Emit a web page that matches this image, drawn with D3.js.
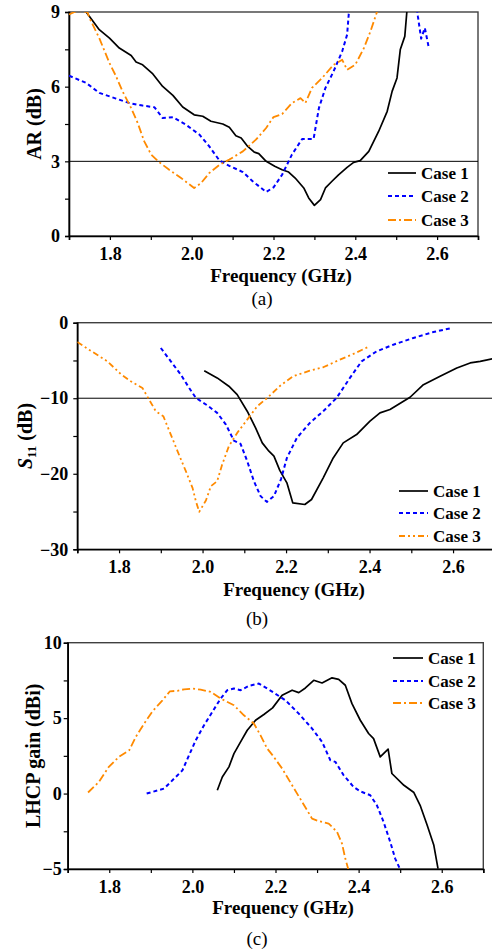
<!DOCTYPE html>
<html><head><meta charset="utf-8">
<script src="https://cdn.jsdelivr.net/npm/d3@7"></script>
<style>
html,body{margin:0;padding:0;background:#fff;}
svg{display:block;}
svg text{font-family:'Liberation Serif','Times New Roman',Times,serif !important;}
</style></head>
<body>
<svg id="chart" width="492" height="950"></svg>
<script>
// ---------- Data ----------
const caseLabels = ["Case 1", "Case 2", "Case 3"];
const xTickLabels = [1.8, 2.0, 2.2, 2.4, 2.6];

// (a) Axial ratio (dB)
const arTicks = [0, 3, 6, 9];
const arFreq1 = [1.735,1.742,1.774,1.799,1.823,1.852,1.864,1.880,1.905,1.929,1.954,1.978,2.006,2.027,2.047,2.076,2.092,2.108,2.121,2.137,2.153,2.164,2.182,2.203,2.221,2.237,2.253,2.274,2.286,2.300,2.315,2.327,2.343,2.359,2.380,2.396,2.412,2.433,2.457,2.478,2.490,2.502,2.510,2.521,2.526,2.532];
const arCase1 = [9.2,9.0,8.29,7.95,7.55,7.25,6.99,6.88,6.51,6.01,5.65,5.18,4.87,4.81,4.61,4.50,4.37,4.03,3.94,3.60,3.37,3.31,3.0,2.80,2.66,2.57,2.33,1.93,1.53,1.23,1.46,1.93,2.20,2.46,2.76,2.96,3.03,3.40,4.20,5.01,5.81,6.35,7.49,8.02,9.0,9.6];
const arFreq2 = [1.700,1.742,1.774,1.815,1.848,1.880,1.909,1.929,1.954,1.986,2.019,2.043,2.068,2.092,2.125,2.149,2.182,2.200,2.221,2.245,2.270,2.298,2.311,2.327,2.347,2.368,2.380,2.384,2.392,2.450,2.520,2.548,2.553,2.561,2.570,2.579];
const arCase2 = [6.44,6.15,5.75,5.52,5.34,5.24,5.17,4.74,4.77,4.47,4.07,3.60,3.03,2.82,2.57,2.20,1.77,1.95,2.46,3.27,3.90,3.90,5.14,5.95,6.62,7.42,8.09,8.92,9.6,11.0,11.0,9.5,8.83,7.93,8.36,7.62];
const arFreq3 = [1.700,1.720,1.745,1.750,1.774,1.799,1.815,1.831,1.852,1.868,1.884,1.901,1.921,1.945,1.974,2.006,2.023,2.043,2.068,2.092,2.125,2.157,2.182,2.200,2.221,2.245,2.266,2.278,2.294,2.319,2.347,2.368,2.380,2.400,2.421,2.437,2.453,2.460];
const arCase3 = [8.9,9.05,9.0,8.76,7.95,6.95,6.42,5.81,5.14,4.54,3.80,3.27,2.96,2.66,2.33,1.93,2.13,2.53,2.86,3.07,3.40,3.87,4.34,4.78,4.90,5.34,5.54,5.34,5.95,6.35,6.88,7.08,6.68,6.88,7.55,8.22,9.0,9.3];

// (b) S11 (dB)
const s11Ticks = [-30, -20, -10, 0];
const s11Freq1 = [2.004,2.035,2.063,2.083,2.107,2.127,2.143,2.159,2.171,2.185,2.202,2.216,2.245,2.261,2.289,2.313,2.337,2.369,2.401,2.425,2.449,2.497,2.529,2.569,2.609,2.641,2.665,2.700];
const s11Case1 = [-6.35,-7.31,-8.41,-9.52,-11.72,-13.93,-15.91,-17.01,-17.67,-19.55,-21.2,-23.85,-24.07,-23.41,-20.54,-17.9,-15.91,-14.81,-13.04,-11.94,-11.5,-9.87,-8.2,-7.09,-5.99,-5.33,-5.11,-4.7];
const s11Freq2 = [1.900,1.924,1.948,1.968,1.984,2.011,2.035,2.056,2.075,2.091,2.107,2.123,2.139,2.154,2.171,2.188,2.202,2.226,2.257,2.289,2.321,2.353,2.381,2.417,2.457,2.505,2.553,2.597];
const s11Case2 = [-3.35,-5.11,-6.88,-8.64,-9.96,-10.93,-11.94,-13.49,-15.61,-16.04,-18.33,-20.98,-22.96,-23.72,-22.96,-20.7,-17.9,-15.25,-13.27,-11.72,-9.96,-7.31,-5.11,-3.79,-2.91,-2.02,-1.23,-0.70];
const s11Freq3 = [1.700,1.728,1.772,1.804,1.828,1.856,1.872,1.888,1.906,1.924,1.940,1.960,1.976,1.984,1.992,2.008,2.020,2.035,2.047,2.063,2.083,2.107,2.131,2.155,2.186,2.217,2.257,2.289,2.329,2.361,2.395];
const s11Case3 = [-2.55,-3.57,-5.11,-6.79,-7.75,-8.64,-10.18,-11.72,-12.38,-14.81,-17.0,-19.66,-21.87,-23.63,-25.04,-23.54,-21.64,-20.98,-18.78,-16.35,-14.59,-12.83,-11.06,-9.96,-8.35,-7.09,-6.35,-5.9,-4.89,-4.14,-3.25];

// (c) LHCP gain (dBi)
const gainTicks = [-5, 0, 5, 10];
const gFreq1 = [2.060,2.072,2.088,2.100,2.116,2.132,2.152,2.172,2.193,2.216,2.240,2.256,2.272,2.292,2.312,2.336,2.352,2.368,2.384,2.404,2.424,2.436,2.452,2.471,2.480,2.509,2.533,2.548,2.565,2.581,2.591];
const gCase1 = [0.22,1.1,1.77,2.65,3.43,4.20,4.86,5.24,5.68,6.52,6.85,6.69,7.0,7.51,7.33,7.67,7.57,7.18,5.96,4.86,3.98,3.64,2.43,2.94,1.33,0.55,0.07,-0.78,-2.1,-3.43,-4.97];
const gFreq2 = [1.890,1.932,1.956,1.976,1.992,2.008,2.028,2.048,2.068,2.084,2.100,2.116,2.136,2.160,2.180,2.194,2.224,2.256,2.288,2.312,2.332,2.344,2.364,2.388,2.404,2.428,2.444,2.460,2.476,2.488,2.499];
const gCase2 = [0.0,0.33,0.99,1.54,2.54,3.53,4.53,5.41,6.30,6.85,6.96,6.85,7.14,7.29,6.96,6.72,6.18,5.30,4.31,3.43,2.21,2.10,1.21,0.44,0.15,-0.11,-0.78,-1.88,-3.2,-4.31,-4.97];
const gFreq3 = [1.749,1.775,1.799,1.823,1.848,1.864,1.884,1.904,1.928,1.946,1.964,1.980,2.000,2.020,2.044,2.068,2.100,2.124,2.148,2.164,2.180,2.194,2.216,2.240,2.264,2.288,2.304,2.328,2.348,2.360,2.368,2.375];
const gCase3 = [0.07,0.77,1.77,2.43,2.87,3.76,4.64,5.45,6.18,6.78,6.81,6.91,6.96,6.89,6.74,6.30,5.85,5.19,4.64,3.86,2.98,2.5,1.66,0.55,-0.55,-1.66,-1.83,-1.99,-2.54,-3.31,-4.31,-5.0];

// ---------- Drawing ----------
const svg = d3.select("#chart");
const FONT = "'Liberation Serif','Times New Roman',Times,serif";
const colors = ["#000000", "#0000ff", "#ff8a00"];
const widths = [1.7, 2.0, 1.8];
const zip = (xs, ys) => xs.map((x, i) => [x, ys[i]]);

const panels = [
  { id: "a", x0: 69, x1: 478, yTop: 12, yBot: 236, ydom: [0, 9], step: 1.5, major: arTicks,
    series: [zip(arFreq1, arCase1), zip(arFreq2, arCase2), zip(arFreq3, arCase3)],
    dashes: [null, "4,3", "8,3,2,3"], ref: 3, ylabPad: 9,
    title: "AR (dB)", titleX: 34, legend: { x: 388, len: 28, ys: [173, 196, 220] },
    caption: "(a)", capX: 262, capY: 305, xtitleX: 281, xtitleY: 282 },
  { id: "b", x0: 77.3, x1: 494.8, yTop: 322.7, yBot: 549.3, ydom: [-30, 0], step: 5, major: s11Ticks,
    series: [zip(s11Freq1, s11Case1), zip(s11Freq2, s11Case2), zip(s11Freq3, s11Case3)],
    dashes: [null, "4,3", "6,3,2,3,2,3"], ref: -10, ylabPad: 9,
    title: "S11", titleX: 25, legend: { x: 399, len: 29, ys: [491, 513, 536] },
    caption: "(b)", capX: 257, capY: 625, xtitleX: 294, xtitleY: 596 },
  { id: "c", x0: 67.7, x1: 483.3, yTop: 642.7, yBot: 869, ydom: [-5, 10], step: 2.5, major: gainTicks,
    series: [zip(gFreq1, gCase1), zip(gFreq2, gCase2), zip(gFreq3, gCase3)],
    dashes: [null, "4,3", "8,3,2,3"], ref: null, ylabPad: 6,
    title: "LHCP gain (dBi)", titleX: 33, legend: { x: 393, len: 30, ys: [658, 681, 703] },
    caption: "(c)", capX: 257, capY: 945, xtitleX: 283, xtitleY: 914 }
];

panels.forEach(p => {
  const x = d3.scaleLinear().domain([1.7, 2.7]).range([p.x0, p.x1]);
  const y = d3.scaleLinear().domain(p.ydom).range([p.yBot, p.yTop]);
  const g = svg.append("g");

  g.append("clipPath").attr("id", "clip-" + p.id)
    .append("rect").attr("x", p.x0).attr("y", p.yTop)
    .attr("width", p.x1 - p.x0).attr("height", p.yBot - p.yTop);

  // frame
  g.append("rect").attr("x", p.x0).attr("y", p.yTop)
    .attr("width", p.x1 - p.x0).attr("height", p.yBot - p.yTop)
    .attr("fill", "none").attr("stroke", "#404040").attr("stroke-width", 1.4);

  // reference line
  if (p.ref !== null) {
    g.append("line").attr("x1", p.x0).attr("x2", p.x1)
      .attr("y1", y(p.ref)).attr("y2", y(p.ref))
      .attr("stroke", "#000").attr("stroke-width", 1);
  }

  // x axis
  const xt = d3.range(17, 28).map(v => v / 10);
  const xAxis = d3.axisBottom(x).tickValues(xt).tickSize(4).tickPadding(7)
    .tickFormat(d => xTickLabels.some(t => Math.abs(t - d) < 1e-6) ? d3.format(".1f")(d) : "");
  const xg = g.append("g").attr("transform", `translate(0,${p.yBot})`).call(xAxis)
    .attr("font-family", FONT);
  xg.select(".domain").attr("stroke", "#000").attr("stroke-width", 1.6);
  xg.selectAll(".tick line").attr("stroke", "#000").attr("stroke-width", 1.2);
  xg.selectAll(".tick text").style("font-family", FONT)
    .attr("font-weight", "bold").attr("font-size", 18).attr("fill", "#000");

  // y axis
  const yt = d3.range(p.ydom[0], p.ydom[1] + 1e-9, p.step);
  const yAxis = d3.axisLeft(y).tickValues(yt).tickSize(4).tickPadding(p.ylabPad - 4)
    .tickFormat(d => p.major.includes(d) ? d3.format("d")(d) : "");
  const yg = g.append("g").attr("transform", `translate(${p.x0},0)`).call(yAxis)
    .attr("font-family", FONT);
  yg.select(".domain").attr("stroke", "#000").attr("stroke-width", 1.6);
  yg.selectAll(".tick line").attr("stroke", "#000").attr("stroke-width", 1.2);
  yg.selectAll(".tick text").style("font-family", FONT)
    .attr("font-weight", "bold").attr("font-size", 18).attr("fill", "#000");

  // series
  const line = d3.line().x(d => x(d[0])).y(d => y(d[1]));
  const sg = g.append("g").attr("clip-path", `url(#clip-${p.id})`);
  p.series.forEach((s, i) => {
    sg.append("path").datum(s).attr("d", line)
      .attr("fill", "none").attr("stroke", colors[i]).attr("stroke-width", widths[i])
      .attr("stroke-linejoin", "round")
      .attr("stroke-dasharray", p.dashes[i]);
  });

  // legend
  caseLabels.forEach((lab, i) => {
    const ly = p.legend.ys[i];
    g.append("line").attr("x1", p.legend.x).attr("x2", p.legend.x + p.legend.len)
      .attr("y1", ly).attr("y2", ly).attr("stroke", colors[i]).attr("stroke-width", widths[i])
      .attr("stroke-dasharray", p.dashes[i]);
    g.append("text").attr("x", p.legend.x + p.legend.len + 5).attr("y", ly).attr("dy", "0.35em")
      .style("font-family", FONT)
      .attr("font-weight", "bold").attr("font-size", 17).text(lab);
  });

  // x title
  g.append("text").attr("x", p.xtitleX).attr("y", p.xtitleY).attr("text-anchor", "middle")
    .style("font-family", FONT)
    .attr("font-weight", "bold").attr("font-size", 19).text("Frequency (GHz)");

  // y title
  const cy = (p.yTop + p.yBot) / 2;
  const yt2 = g.append("text").attr("transform", `translate(${p.titleX},${cy}) rotate(-90)`)
    .attr("text-anchor", "middle").attr("dy", "0.35em")
    .style("font-family", FONT)
    .attr("font-weight", "bold").attr("font-size", 20);
  if (p.id === "b") {
    yt2.append("tspan").attr("font-style", "italic").text("S");
    yt2.append("tspan").attr("font-size", 13).attr("dy", "0.3em").text("11");
    yt2.append("tspan").attr("dy", "-0.2em").text(" (dB)");
  } else {
    yt2.text(p.title);
  }

  // caption
  g.append("text").attr("x", p.capX).attr("y", p.capY).attr("text-anchor", "middle")
    .style("font-family", FONT)
    .attr("font-size", 19).text(p.caption);
});
</script>
</body></html>
